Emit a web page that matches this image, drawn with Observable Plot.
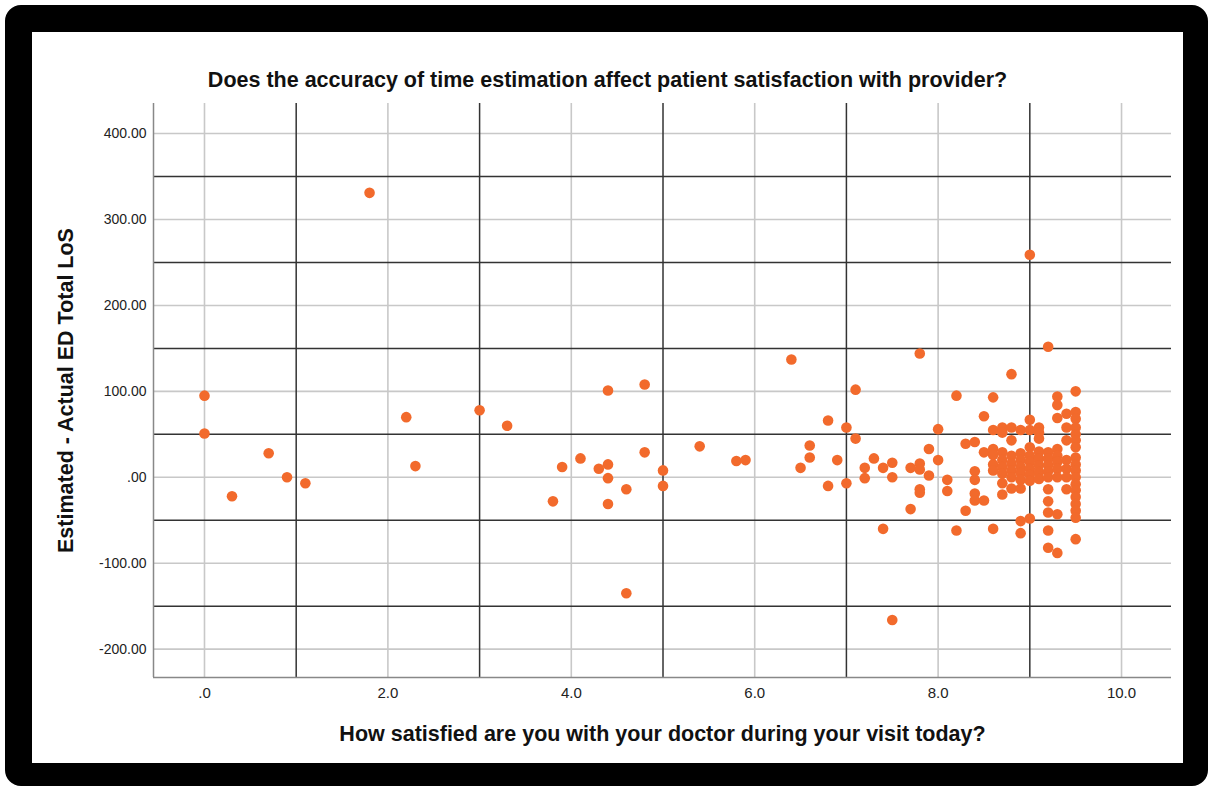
<!DOCTYPE html>
<html>
<head>
<meta charset="utf-8">
<script src="https://cdn.jsdelivr.net/npm/d3@7"></script>
<script src="https://cdn.jsdelivr.net/npm/@observablehq/plot@0.6"></script>
<style>
  html, body { margin: 0; padding: 0; background: #fff; }
  body { width: 1210px; height: 787px; position: relative; overflow: hidden; font-family: "Liberation Sans", Arial, sans-serif; }
  #frame { position: absolute; left: 5px; top: 5px; width: 1203px; height: 781px; box-sizing: border-box;
           border-style: solid; border-color: #000; border-width: 27px 25px 23px 27px; border-radius: 16px; background: #fff; }
  #title { position: absolute; left: 32px; width: 1151px; top: 67px; text-align: center; font-size: 21.5px; font-weight: bold; line-height: 26px; color: #111; }
  #chart { position: absolute; left: 32px; top: 95px; }
  #chart svg g[aria-label="x-axis label"] text, #chart svg g[aria-label="y-axis label"] text { font-size: 21.5px; font-weight: bold; fill: #111; }
</style>
</head>
<body>
<div id="frame"></div>
<div id="title">Does the accuracy of time estimation affect patient satisfaction with provider?</div>
<div id="chart"></div>
<script>
// ---- data ----
const satisfaction = [
  0, 0, 0.3, 0.7, 0.9, 1.1, 1.8, 2.2, 2.3, 3.0, 3.3,
  3.8, 3.9, 4.1, 4.3, 4.4, 4.4, 4.4, 4.4, 4.6, 4.6, 4.8, 4.8, 5.0, 5.0, 5.4, 5.8, 5.9,
  6.4, 6.5, 6.6, 6.6, 6.8, 6.8, 6.9, 7.0, 7.0, 7.1, 7.1, 7.2, 7.2, 7.3, 7.4, 7.4, 7.5, 7.5, 7.5,
  7.7, 7.7, 7.8, 7.8, 7.8, 7.8, 7.8, 7.9, 7.9, 8.0, 8.0, 8.1, 8.1,
  8.2, 8.2, 8.3, 8.3, 8.4, 8.4, 8.4, 8.4, 8.4, 8.5, 8.5, 8.5,
  8.6, 8.6, 8.6, 8.6, 8.6, 8.6, 8.6,
  8.7, 8.7, 8.7, 8.7, 8.7, 8.7, 8.7, 8.7,
  8.8, 8.8, 8.8, 8.8, 8.8, 8.8, 8.8, 8.8,
  8.9, 8.9, 8.9, 8.9, 8.9, 8.9, 8.9, 8.9, 8.9,
  9.0, 9.0, 9.0, 9.0, 9.0, 9.0, 9.0, 9.0, 9.0, 9.0,
  9.1, 9.1, 9.1, 9.1, 9.1, 9.1, 9.1, 9.1,
  9.2, 9.2, 9.2, 9.2, 9.2, 9.2, 9.2, 9.2, 9.2, 9.2, 9.2,
  9.3, 9.3, 9.3, 9.3, 9.3, 9.3, 9.3, 9.3, 9.3, 9.3,
  9.4, 9.4, 9.4, 9.4, 9.4, 9.4, 9.4,
  9.5, 9.5, 9.5, 9.5, 9.5, 9.5, 9.5, 9.5, 9.5, 9.5, 9.5, 9.5, 9.5, 9.5, 9.5, 9.5, 9.5, 9.5
];
const losDifference = [
  95, 51, -22, 28, 0, -7, 331, 70, 13, 78, 60,
  -28, 12, 22, 10, 101, 15, -1, -31, -14, -135, 108, 29, 8, -10, 36, 19, 20,
  137, 11, 37, 23, 66, -10, 20, 58, -7, 102, 45, 11, -1, 22, 11, -60, 17, 0, -166,
  11, -37, 144, 16, 9, -14, -18, 33, 2, 56, 20, -3, -16,
  95, -62, 39, -39, 41, 7, -3, -19, -27, 71, 29, -27,
  93, 55, 33, 26, 15, 8, -60,
  58, 52, 29, 20, 12, 4, -7, -20,
  120, 58, 43, 25, 16, 8, 0, -13,
  55, 28, 20, 12, 5, -3, -13, -51, -65,
  259, 67, 55, 35, 25, 18, 10, 3, -4, -48,
  58, 52, 45, 30, 22, 14, 6, -2,
  152, 29, 22, 14, 7, 0, -14, -28, -41, -62, -82,
  94, 84, 69, 33, 25, 18, 10, 0, -43, -88,
  74, 58, 43, 20, 10, 0, -14,
  100, 76, 68, 58, 50, 43, 35, 23, 15, 8, 0, -8, -15, -23, -31, -39, -47, -72
];
const xTicks = [0, 2, 4, 6, 8, 10];
const xMidLines = [1, 3, 5, 7, 9];
const yTicks = [400, 300, 200, 100, 0, -100, -200];
const yMidLines = [350, 250, 150, 50, -50, -150];
const xDomain = [-0.556, 10.545];
const yDomain = [-233, 435];
const xLabel = "How satisfied are you with your doctor during your visit today?";
const yLabel = "Estimated - Actual ED Total LoS";

const points = satisfaction.map((x, i) => ({x, y: losDifference[i]}));

const chart = Plot.plot({
  width: 1151,
  height: 668,
  marginTop: 8,
  marginLeft: 121,
  marginRight: 12,
  marginBottom: 86,
  style: {fontFamily: '"Liberation Sans", Arial, sans-serif', background: "transparent"},
  x: {domain: xDomain},
  y: {domain: yDomain},
  marks: [
    Plot.ruleX(xTicks, {stroke: "#c8c8c8", strokeWidth: 1.6}),
    Plot.ruleY(yTicks, {stroke: "#c8c8c8", strokeWidth: 1.6}),
    Plot.ruleX(xMidLines, {stroke: "#333", strokeWidth: 1.5}),
    Plot.ruleY(yMidLines, {stroke: "#333", strokeWidth: 1.5}),
    Plot.ruleX([xDomain[0]], {stroke: "#888", strokeWidth: 1.5}),
    Plot.ruleY([yDomain[0]], {stroke: "#888", strokeWidth: 1.5}),
    Plot.axisX({ticks: xTicks, tickSize: 0, tickPadding: 10, fontSize: 15, color: "#222",
      tickFormat: d => d === 0 ? ".0" : d.toFixed(1),
      label: xLabel, labelAnchor: "center", labelArrow: "none", labelOffset: 63}),
    Plot.axisY({ticks: yTicks, tickSize: 0, tickPadding: 7, fontSize: 14, color: "#222",
      tickFormat: d => d === 0 ? ".00" : d.toFixed(2),
      label: yLabel, labelAnchor: "center", labelArrow: "none", labelOffset: 96}),
    Plot.dot(points, {x: "x", y: "y", r: 5.3, fill: "#f26a2c"})
  ]
});
document.getElementById("chart").appendChild(chart);
</script>
</body>
</html>
